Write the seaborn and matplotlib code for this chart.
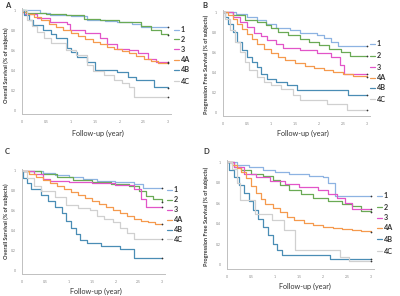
import matplotlib
matplotlib.use("Agg")
import matplotlib.pyplot as plt
import seaborn as sns
import pandas as pd

sns.set_theme(style="white")
plt.rcParams["font.family"] = ["Lato", "DejaVu Sans"]

W, H = 400, 296

groups = ["1", "2", "3", "4A", "4B", "4C"]
colors = ["#8db3e2", "#6aaa55", "#e255c8", "#f59a4e", "#4a8db5", "#d0d0d0"]
x_ticks = [0, 0.5, 1, 1.5, 2, 2.5, 3]
x_tick_labels = ["0", "0.5", "1", "1.5", "2", "2.5", "3"]
y_ticks = [0, 0.2, 0.4, 0.6, 0.8, 1.0]
y_tick_labels = ["0", "0.2", "0.4", "0.6", "0.8", "1"]
x_label = "Follow-up (year)"
os_label = "Overall Survival (% of subjects)"
pfs_label = "Progression Free Survival (% of subjects)"

# ---- Panel A (overall survival) ----
a1_t = [0, 0.36, 0.57, 1.0, 1.33, 1.7, 1.96, 2.25, 2.45, 3.0]
a1_s = [1.0, 0.97, 0.95, 0.94, 0.90, 0.89, 0.88, 0.86, 0.83, 0.83]
a2_t = [0, 0.08, 0.5, 0.9, 1.28, 1.6, 2.0, 2.45, 2.65, 2.85, 3.0]
a2_s = [1.0, 0.97, 0.96, 0.95, 0.91, 0.90, 0.88, 0.84, 0.80, 0.76, 0.75]
a3_t = [0, 0.05, 0.3, 0.57, 0.92, 0.98, 1.3, 1.6, 1.75, 1.96, 2.2, 2.38, 2.58, 2.75, 3.0]
a3_s = [0.98, 0.96, 0.92, 0.88, 0.86, 0.80, 0.77, 0.72, 0.66, 0.61, 0.60, 0.57, 0.51, 0.48, 0.48]
a4a_t = [0, 0.1, 0.25, 0.4, 0.55, 0.7, 0.85, 1.0, 1.15, 1.3, 1.45, 1.6, 1.75, 1.9, 2.05, 2.2, 2.35, 2.5, 2.65, 2.8, 3.0]
a4a_s = [0.98, 0.96, 0.93, 0.90, 0.86, 0.83, 0.80, 0.77, 0.74, 0.71, 0.68, 0.66, 0.63, 0.61, 0.59, 0.57, 0.54, 0.51, 0.49, 0.47, 0.47]
a4b_t = [0, 0.05, 0.15, 0.22, 0.43, 0.6, 0.7, 0.92, 1.0, 1.12, 1.33, 1.5, 1.96, 2.17, 2.35, 2.72, 3.0]
a4b_s = [1.0, 0.95, 0.90, 0.85, 0.80, 0.76, 0.72, 0.62, 0.58, 0.53, 0.48, 0.40, 0.38, 0.33, 0.30, 0.23, 0.22]
a4c_t = [0, 0.1, 0.2, 0.3, 0.45, 0.6, 0.9, 1.1, 1.33, 1.45, 1.68, 1.9, 2.05, 2.2, 2.3, 3.0]
a4c_s = [1.0, 0.90, 0.84, 0.78, 0.72, 0.67, 0.60, 0.55, 0.45, 0.39, 0.35, 0.30, 0.27, 0.23, 0.13, 0.13]

# ---- Panel B (progression free survival) ----
b1_t = [0, 0.28, 0.5, 0.7, 0.9, 1.1, 1.4, 1.6, 1.96, 2.1, 2.25, 2.4, 3.0]
b1_s = [1.0, 0.98, 0.95, 0.92, 0.88, 0.84, 0.82, 0.79, 0.77, 0.74, 0.70, 0.66, 0.66]
b2_t = [0, 0.2, 0.45, 0.7, 0.9, 1.0, 1.15, 1.35, 1.6, 1.8, 2.0, 2.2, 2.45, 2.65, 3.0]
b2_s = [1.0, 0.97, 0.92, 0.90, 0.87, 0.84, 0.80, 0.77, 0.73, 0.70, 0.67, 0.63, 0.60, 0.56, 0.56]
b3_t = [0, 0.2, 0.35, 0.5, 0.64, 0.8, 0.92, 1.1, 1.26, 1.6, 1.95, 2.24, 2.44, 2.52, 3.0]
b3_s = [1.0, 0.95, 0.90, 0.85, 0.79, 0.76, 0.72, 0.68, 0.64, 0.62, 0.59, 0.55, 0.47, 0.38, 0.38]
b4a_t = [0, 0.1, 0.2, 0.3, 0.4, 0.5, 0.6, 0.7, 0.85, 1.0, 1.15, 1.3, 1.5, 1.7, 1.9, 2.1, 2.3, 2.5, 2.7, 3.0]
b4a_s = [1.0, 0.97, 0.93, 0.88, 0.83, 0.78, 0.73, 0.68, 0.63, 0.59, 0.55, 0.52, 0.49, 0.46, 0.44, 0.42, 0.40, 0.38, 0.36, 0.35]
b4b_t = [0, 0.05, 0.1, 0.2, 0.3, 0.4, 0.5, 0.6, 0.71, 0.8, 0.92, 1.1, 1.33, 1.55, 2.6, 3.0]
b4b_s = [1.0, 0.95, 0.88, 0.80, 0.70, 0.62, 0.55, 0.50, 0.45, 0.38, 0.33, 0.30, 0.27, 0.22, 0.175, 0.175]
b4c_t = [0, 0.05, 0.15, 0.25, 0.35, 0.45, 0.55, 0.7, 0.85, 1.0, 1.2, 1.45, 1.61, 2.17, 2.58, 3.0]
b4c_s = [1.0, 0.93, 0.82, 0.70, 0.60, 0.50, 0.42, 0.35, 0.30, 0.27, 0.23, 0.17, 0.12, 0.085, 0.02, 0.02]

# ---- Panel C (overall survival) ----
c1_t = [0, 0.45, 0.7, 1.0, 1.3, 1.6, 2.0, 2.4, 2.6, 3.0]
c1_s = [1.0, 0.98, 0.96, 0.94, 0.92, 0.90, 0.89, 0.87, 0.83, 0.83]
c2_t = [0, 0.4, 0.75, 1.1, 1.5, 1.9, 2.3, 2.5, 2.65, 2.8, 3.0]
c2_s = [1.0, 0.97, 0.94, 0.91, 0.89, 0.87, 0.85, 0.80, 0.75, 0.72, 0.69]
c3_t = [0, 0.25, 0.45, 0.6, 1.0, 1.5, 2.0, 2.4, 2.55, 2.65, 3.0]
c3_s = [1.0, 0.97, 0.92, 0.90, 0.89, 0.88, 0.86, 0.82, 0.72, 0.64, 0.64]
c4a_t = [0, 0.15, 0.3, 0.45, 0.6, 0.75, 0.9, 1.05, 1.2, 1.35, 1.5, 1.65, 1.8, 1.95, 2.1, 2.25, 2.4, 2.55, 2.7, 2.85, 3.0]
c4a_s = [1.0, 0.97, 0.94, 0.91, 0.88, 0.85, 0.82, 0.79, 0.76, 0.73, 0.70, 0.67, 0.64, 0.61, 0.58, 0.55, 0.52, 0.50, 0.48, 0.46, 0.46]
c4b_t = [0, 0.03, 0.1, 0.2, 0.4, 0.55, 0.7, 0.85, 0.95, 1.05, 1.15, 1.25, 1.4, 1.7, 2.1, 2.4, 3.0]
c4b_s = [1.0, 0.93, 0.88, 0.82, 0.76, 0.70, 0.64, 0.58, 0.50, 0.42, 0.36, 0.30, 0.27, 0.24, 0.21, 0.12, 0.12]
c4c_t = [0, 0.1, 0.25, 0.4, 0.7, 0.95, 1.2, 1.45, 1.6, 1.75, 1.95, 2.1, 2.25, 2.4, 3.0]
c4c_s = [1.0, 0.93, 0.85, 0.80, 0.74, 0.66, 0.63, 0.61, 0.55, 0.52, 0.48, 0.42, 0.37, 0.31, 0.31]

# ---- Panel D (progression free survival) ----
d1_t = [0, 0.2, 0.45, 0.75, 1.0, 1.3, 1.7, 2.0, 2.1, 2.25, 3.0]
d1_s = [1.0, 0.97, 0.95, 0.92, 0.90, 0.88, 0.86, 0.85, 0.80, 0.67, 0.67]
d2_t = [0, 0.15, 0.3, 0.5, 0.75, 0.95, 1.1, 1.3, 1.55, 1.8, 2.1, 2.4, 2.6, 2.8, 3.0]
d2_s = [1.0, 0.95, 0.92, 0.88, 0.86, 0.83, 0.78, 0.73, 0.69, 0.65, 0.62, 0.59, 0.57, 0.52, 0.51]
d3_t = [0, 0.15, 0.35, 0.6, 0.9, 1.2, 1.5, 1.9, 2.1, 2.3, 2.45, 2.6, 3.0]
d3_s = [1.0, 0.95, 0.88, 0.85, 0.82, 0.79, 0.76, 0.73, 0.69, 0.65, 0.60, 0.54, 0.54]
d4a_t = [0, 0.1, 0.2, 0.3, 0.4, 0.5, 0.6, 0.7, 0.8, 0.95, 1.1, 1.25, 1.4, 1.6, 1.8, 2.0, 2.2, 2.4, 2.6, 2.8, 3.0]
d4a_s = [1.0, 0.97, 0.94, 0.90, 0.84, 0.77, 0.70, 0.64, 0.59, 0.55, 0.51, 0.47, 0.44, 0.41, 0.39, 0.37, 0.36, 0.35, 0.34, 0.33, 0.32]
d4b_t = [0, 0.05, 0.15, 0.25, 0.35, 0.45, 0.55, 0.65, 0.75, 0.85, 0.95, 1.05, 1.15, 2.15, 3.0]
d4b_s = [1.0, 0.92, 0.85, 0.78, 0.70, 0.62, 0.53, 0.45, 0.37, 0.29, 0.20, 0.15, 0.10, 0.06, 0.06]
d4c_t = [0, 0.1, 0.21, 0.28, 0.59, 0.94, 1.18, 1.42, 2.36, 2.55, 3.0]
d4c_s = [1.0, 0.93, 0.80, 0.63, 0.50, 0.44, 0.34, 0.15, 0.08, 0.04, 0.04]

panels = [
    dict(letter="A", ylabel=os_label, t0=22, t3=168, y1=10, y0=110,
         curves=[(a1_t, a1_s), (a2_t, a2_s), (a3_t, a3_s), (a4a_t, a4a_s), (a4b_t, a4b_s), (a4c_t, a4c_s)],
         letter_xy=(5, 6), xlab_xy=(98, 133), ylab_xy=(6, 65),
         leg_x=174, leg_y=[30, 39, 49, 60, 70, 81]),
    dict(letter="B", ylabel=pfs_label, t0=223, t3=367, y1=12, y0=112,
         curves=[(b1_t, b1_s), (b2_t, b2_s), (b3_t, b3_s), (b4a_t, b4a_s), (b4b_t, b4b_s), (b4c_t, b4c_s)],
         letter_xy=(202, 6), xlab_xy=(303, 133), ylab_xy=(206, 64),
         leg_x=370, leg_y=[44, 56, 67, 78, 88, 99]),
    dict(letter="C", ylabel=os_label, t0=22, t3=162, y1=171, y0=270,
         curves=[(c1_t, c1_s), (c2_t, c2_s), (c3_t, c3_s), (c4a_t, c4a_s), (c4b_t, c4b_s), (c4c_t, c4c_s)],
         letter_xy=(5, 152), xlab_xy=(96, 291), ylab_xy=(6, 221),
         leg_x=167, leg_y=[190, 200, 210, 220, 230, 239]),
    dict(letter="D", ylabel=pfs_label, t0=227, t3=371, y1=162, y0=265,
         curves=[(d1_t, d1_s), (d2_t, d2_s), (d3_t, d3_s), (d4a_t, d4a_s), (d4b_t, d4b_s), (d4c_t, d4c_s)],
         letter_xy=(203, 152), xlab_xy=(305, 286), ylab_xy=(206, 216),
         leg_x=377, leg_y=[196, 207, 218, 228, 239, 251]),
]

fig = plt.figure(figsize=(W / 100, H / 100), dpi=100)
fig.patch.set_facecolor("white")

XMIN, XMAX = -0.01, 3.06
YMIN, YMAX = -0.04, 1.02
TXT = "#333333"


def ftext(x, y, s, **kw):
    fig.text(x / W, 1 - y / H, s, **kw)


for p in panels:
    sx = (p["t3"] - p["t0"]) / 3.0
    sy = p["y0"] - p["y1"]
    left = p["t0"] + XMIN * sx
    right = p["t0"] + XMAX * sx
    top = p["y0"] - YMAX * sy
    bottom = p["y0"] - YMIN * sy
    ax = fig.add_axes([left / W, 1 - bottom / H, (right - left) / W, (bottom - top) / H])
    ax.set_facecolor("white")
    for (t, s), g, c in zip(p["curves"], groups, colors):
        df = pd.DataFrame({"t": t, "s": s})
        sns.lineplot(data=df, x="t", y="s", ax=ax, color=c, lw=0.9,
                     drawstyle="steps-post", estimator=None, legend=False)
        ax.scatter([t[-1]], [s[-1]], s=1.5, color="#333333", zorder=5, linewidths=0)
    ax.set_xlim(XMIN, XMAX)
    ax.set_ylim(YMIN, YMAX)
    ax.set_xticks(x_ticks)
    ax.set_xticklabels(x_tick_labels)
    ax.set_yticks(y_ticks)
    ax.set_yticklabels(y_tick_labels)
    ax.tick_params(axis="both", labelsize=2.5, colors="#888888", length=1.2, width=0.4, pad=3)
    ax.set_xlabel("")
    ax.set_ylabel("")
    for side in ["top", "right"]:
        ax.spines[side].set_visible(False)
    for side in ["left", "bottom"]:
        ax.spines[side].set_color("#c0c0c0")
        ax.spines[side].set_linewidth(0.7)

    ftext(*p["letter_xy"], p["letter"], fontsize=5.5, fontweight="bold", color=TXT, ha="left", va="center")
    ftext(*p["xlab_xy"], x_label, fontsize=5.2, color=TXT, ha="center", va="center")
    ftext(*p["ylab_xy"], p["ylabel"], fontsize=4.0, fontweight="bold", color=TXT,
          rotation=90, ha="center", va="center")

# overlay for legend entries in pixel coordinates
ov = fig.add_axes([0, 0, 1, 1])
ov.set_xlim(0, W)
ov.set_ylim(H, 0)
ov.axis("off")
ov.patch.set_alpha(0)
for p in panels:
    for g, c, y in zip(groups, colors, p["leg_y"]):
        ov.plot([p["leg_x"], p["leg_x"] + 5], [y, y], color=c, lw=0.9)
        ov.text(p["leg_x"] + 7, y, g, fontsize=5.2, fontweight="bold", color=TXT, ha="left", va="center")

fig.savefig("out.png", dpi=100, facecolor="white")
